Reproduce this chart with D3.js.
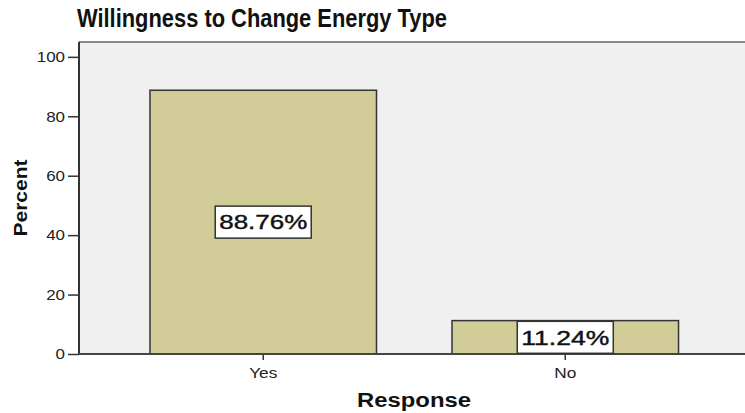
<!DOCTYPE html>
<html>
<head>
<meta charset="utf-8">
<script src="https://cdn.jsdelivr.net/npm/d3@7"></script>
<style>
  html, body { margin: 0; padding: 0; background: #fff; }
  svg { display: block; font-family: "Liberation Sans", Arial, sans-serif; }
</style>
</head>
<body>
<svg id="chart" width="745" height="413"></svg>
<script>
// Survey responses: share of respondents willing to change energy type
const categories = ["Yes", "No"];
const percents = [88.76, 11.24];
const yTicks = [0, 20, 40, 60, 80, 100];

const svg = d3.select("#chart");
const plot = { left: 79, top: 42, right: 745, bottom: 354 };

const x = d3.scaleBand()
  .domain(categories)
  .range([plot.left, 749.5])
  .paddingInner(0.25)
  .paddingOuter(0.235);

const y = d3.scaleLinear()
  .domain([0, 105])
  .range([plot.bottom, plot.top]);

// widen small tick text slightly
function widen(sel, factor) {
  sel.each(function () {
    const len = this.getComputedTextLength();
    d3.select(this).attr("textLength", len * factor).attr("lengthAdjust", "spacingAndGlyphs");
  });
}

// plot background
svg.append("rect")
  .attr("x", plot.left).attr("y", plot.top)
  .attr("width", plot.right - plot.left).attr("height", plot.bottom - plot.top)
  .attr("fill", "#f0f0f0");

// top frame line
svg.append("line")
  .attr("x1", plot.left).attr("x2", plot.right)
  .attr("y1", plot.top).attr("y2", plot.top)
  .attr("stroke", "#8a8a8a").attr("stroke-width", 2);

// bars
svg.append("g").selectAll("rect")
  .data(categories)
  .join("rect")
  .attr("x", d => x(d))
  .attr("y", (d, i) => y(percents[i]))
  .attr("width", x.bandwidth())
  .attr("height", (d, i) => y(0) - y(percents[i]))
  .attr("fill", "#d2cd98")
  .attr("stroke", "#333")
  .attr("stroke-width", 1.5);

// y axis
const yAxis = svg.append("g")
  .attr("transform", `translate(${plot.left},0)`)
  .call(d3.axisLeft(y).tickValues(yTicks).tickSize(11).tickPadding(3).tickFormat(d3.format("d")));
yAxis.select(".domain").remove();
yAxis.selectAll(".tick line").attr("stroke", "#333").attr("stroke-width", 1.5);
yAxis.selectAll(".tick text")
  .attr("font-size", 15).attr("fill", "#222")
  .attr("font-family", "Liberation Sans, Arial, sans-serif")
  .call(widen, 1.13);

svg.append("line")
  .attr("x1", plot.left).attr("x2", plot.left)
  .attr("y1", plot.top).attr("y2", plot.bottom)
  .attr("stroke", "#333").attr("stroke-width", 2);

// x axis
const xAxis = svg.append("g")
  .attr("transform", `translate(0,${plot.bottom})`)
  .call(d3.axisBottom(x).tickSize(6).tickPadding(7));
xAxis.select(".domain").remove();
xAxis.selectAll(".tick line").attr("stroke", "#333").attr("stroke-width", 1.5);
xAxis.selectAll(".tick text")
  .attr("font-size", 15).attr("fill", "#222")
  .attr("font-family", "Liberation Sans, Arial, sans-serif")
  .call(widen, 1.15);

svg.append("line")
  .attr("x1", plot.left).attr("x2", plot.right)
  .attr("y1", plot.bottom).attr("y2", plot.bottom)
  .attr("stroke", "#444").attr("stroke-width", 2);

// value labels inside the bars
const labels = svg.append("g").selectAll("g")
  .data(categories)
  .join("g")
  .attr("transform", (d, i) =>
    `translate(${x(d) + x.bandwidth() / 2},${(y(percents[i]) + y(0)) / 2})`);

labels.append("rect")
  .attr("x", -48).attr("y", -16)
  .attr("width", 96).attr("height", 32)
  .attr("fill", "#fff")
  .attr("stroke", "#333").attr("stroke-width", 1.5);

labels.append("text")
  .attr("text-anchor", "middle")
  .attr("dy", "0.36em")
  .attr("font-size", 20)
  .attr("fill", "#111")
  .attr("stroke", "#111").attr("stroke-width", 0.4)
  .attr("textLength", 88)
  .attr("lengthAdjust", "spacingAndGlyphs")
  .text((d, i) => d3.format(".2f")(percents[i]) + "%");

// title
svg.append("text")
  .attr("x", 262).attr("y", 27)
  .attr("text-anchor", "middle")
  .attr("font-size", 25).attr("font-weight", "bold").attr("fill", "#111")
  .attr("textLength", 370).attr("lengthAdjust", "spacingAndGlyphs")
  .text("Willingness to Change Energy Type");

// axis titles
svg.append("text")
  .attr("transform", "translate(27,198) rotate(-90)")
  .attr("text-anchor", "middle")
  .attr("font-size", 18).attr("font-weight", "bold").attr("fill", "#111")
  .attr("textLength", 77).attr("lengthAdjust", "spacingAndGlyphs")
  .text("Percent");

svg.append("text")
  .attr("x", 414).attr("y", 407)
  .attr("text-anchor", "middle")
  .attr("font-size", 20).attr("font-weight", "bold").attr("fill", "#111")
  .attr("textLength", 114).attr("lengthAdjust", "spacingAndGlyphs")
  .text("Response");
</script>
</body>
</html>
